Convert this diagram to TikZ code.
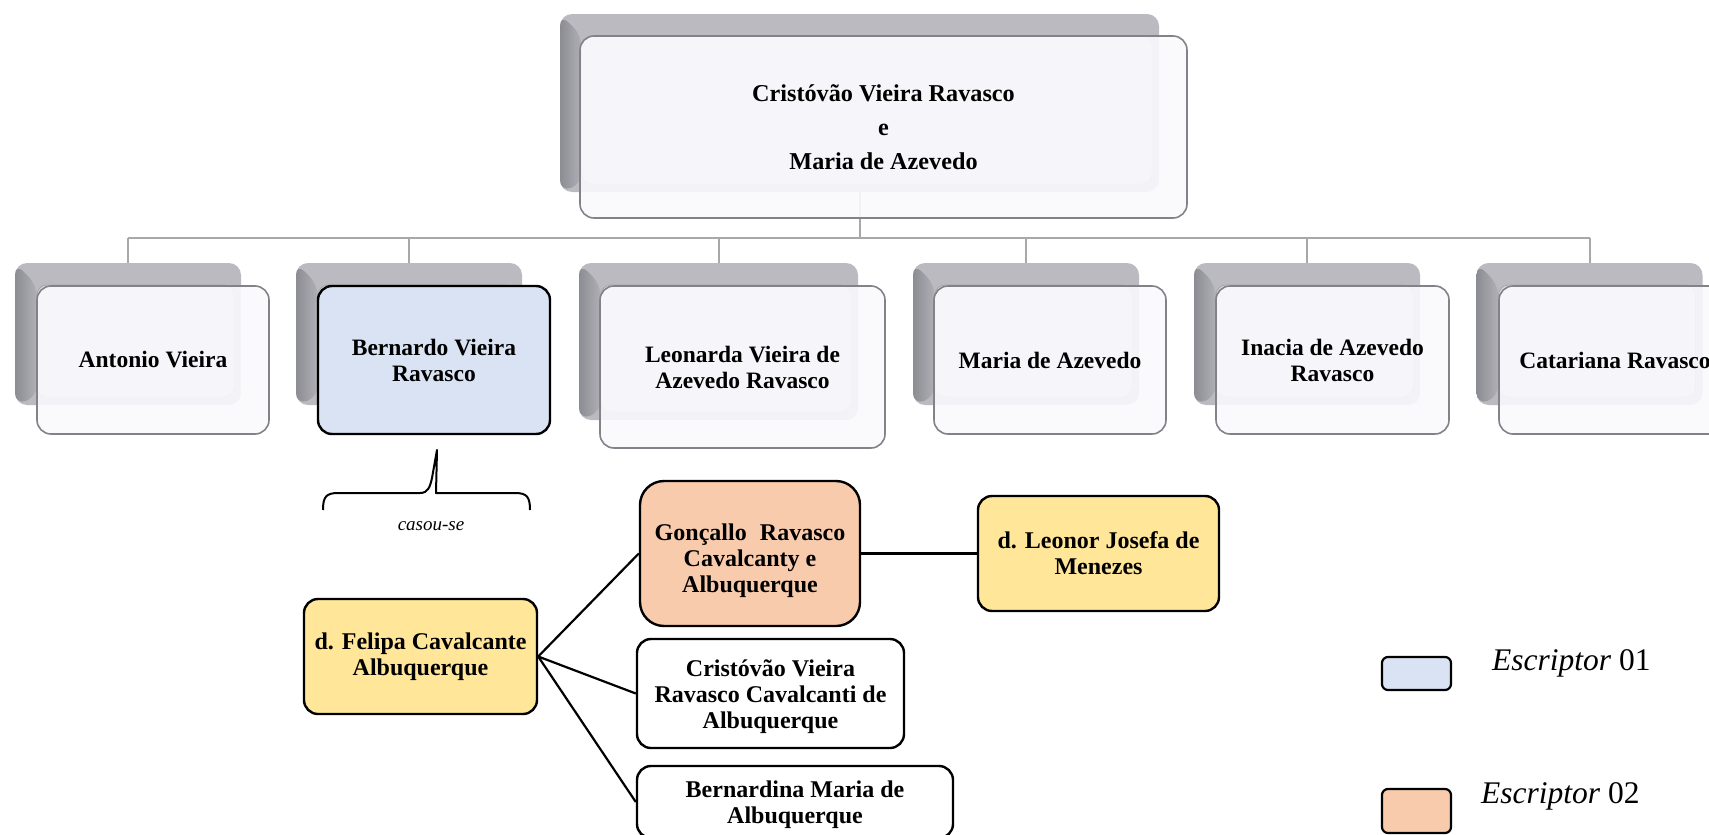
\documentclass[tikz,border=0pt]{standalone}
\usepackage{fontspec}
\setmainfont{Liberation Serif}
\usetikzlibrary{calc}

\definecolor{shadowrim}{RGB}{186,186,192}
\definecolor{shadowdark}{RGB}{140,140,147}
\definecolor{shadowmid}{RGB}{176,176,182}
\definecolor{shadowface}{RGB}{218,218,224}
\definecolor{shadowedge}{RGB}{165,165,171}
\definecolor{frontfill}{RGB}{250,249,252}
\definecolor{frontline}{RGB}{130,130,136}
\definecolor{linkgray}{RGB}{168,168,170}
\definecolor{writerA}{RGB}{218,227,243}
\definecolor{writerB}{RGB}{248,203,173}
\definecolor{spouse}{RGB}{255,230,153}

\tikzset{
  famshadow/.style={fill=shadowrim, rounded corners=12pt, inner sep=0pt,
    path picture={
      \coordinate (pNW) at (path picture bounding box.north west);
      \coordinate (pSW) at (path picture bounding box.south west);
      \coordinate (pSE) at (path picture bounding box.south east);
      % darker bevel on the left side
      \shade[left color=shadowdark, right color=shadowmid]
        (pNW) -- ($(pNW)+(22,22)$) -- ($(pSW)+(22,-8)$) -- (pSW) -- cycle;
      % flat face of the plate
      \filldraw[fill=shadowface, draw=shadowedge, line width=0.8pt, rounded corners=10pt]
        ($(pNW)+(22,22)$) rectangle ($(pSE)+(-7,-8)$);
    }},
  famfront/.style={draw=frontline, line width=1.6pt, fill=frontfill,
    fill opacity=0.9, text opacity=1, rounded corners=14pt, align=center,
    inner sep=0pt, font=\fontsize{23.5}{26}\selectfont\bfseries},
  writerone/.style={famfront, fill=writerA, fill opacity=1, draw=black,
    line width=2.4pt},
  lowbox/.style={draw=black, line width=2.4pt, rounded corners=14pt,
    align=center, inner sep=0pt, fill=white,
    font=\fontsize{24}{26}\selectfont\bfseries},
  lowtext/.style={align=center, inner sep=0pt,
    font=\fontsize{24}{26}\selectfont\bfseries},
  link/.style={draw=linkgray, line width=2pt},
  branch/.style={draw=black, line width=2.2pt},
  keybox/.style={draw=black, line width=2.2pt, rounded corners=6pt, inner sep=0pt},
  keytext/.style={anchor=base west, inner sep=0pt,
    font=\fontsize{31.5}{34}\selectfont},
}

\begin{document}
\begin{tikzpicture}[x=1pt,y=-1pt]
\useasboundingbox (0,0) rectangle (1709,835);
\clip (0,0) rectangle (1709,835);

% shadow plates behind the generation boxes
\node[famshadow, minimum width=599pt, minimum height=178pt] (topS) at (859.5,103) {};
\node[famshadow, minimum width=226pt, minimum height=142pt] (antS) at (128,334) {};
\node[famshadow, minimum width=226pt, minimum height=142pt] (berS) at (409,334) {};
\node[famshadow, minimum width=279pt, minimum height=157pt] (leoS) at (718.5,341.5) {};
\node[famshadow, minimum width=226pt, minimum height=142pt] (marS) at (1026,334) {};
\node[famshadow, minimum width=226pt, minimum height=142pt] (inaS) at (1307,334) {};
\node[famshadow, minimum width=226pt, minimum height=142pt] (catS) at (1589.5,334) {};

% tree connectors
\coordinate (bus) at (0,238);
\draw[link] (topS.south) -- (topS.south |- bus);
\draw[link] (antS.north |- bus) -- (catS.north |- bus);
\foreach \c in {antS,berS,leoS,marS,inaS,catS}
  \draw[link] (\c.north |- bus) -- (\c.north);

% parents
\node[famfront, minimum width=607pt, minimum height=182pt,
      font=\fontsize{24.2}{34}\selectfont\bfseries] (top) at (883.5,127)
  {Cristóvão Vieira Ravasco\\e\\Maria de Azevedo};

% children
\node[famfront, minimum width=232pt, minimum height=148pt] (ant) at (153,360) {Antonio Vieira};
\node[writerone, minimum width=232pt, minimum height=148pt] (ber) at (434,360) {Bernardo Vieira\\Ravasco};
\node[famfront, minimum width=285pt, minimum height=162pt] (leo) at (742.5,367) {Leonarda Vieira de\\Azevedo Ravasco};
\node[famfront, minimum width=232pt, minimum height=148pt] (mar) at (1050,360) {Maria de Azevedo};
\node[famfront, minimum width=233pt, minimum height=148pt] (ina) at (1332.5,360) {Inacia de Azevedo\\Ravasco};
\node[famfront, minimum width=232pt, minimum height=148pt] (cat) at (1615,360) {Catariana Ravasco};

% marriage brace
\draw[black, line width=2pt, line join=round]
  (323,510) .. controls (323,497) and (326,493) .. (338,493)
  -- (420,493) .. controls (428,493) and (430,487) .. (432,478)
  -- (437,450) -- (436,493)
  -- (515,493) .. controls (527,493) and (530,497) .. (530,510);
\node[inner sep=0pt, font=\fontsize{19}{22}\selectfont\itshape] (casou) at (431,526) {casou-se};

% Bernardo's family
\node[lowbox, fill=spouse, minimum width=233pt, minimum height=115pt] (fel) at (420.5,656.5)
  {d. Felipa Cavalcante\\Albuquerque};
\node[lowbox, fill=writerB, rounded corners=24pt, minimum width=220pt, minimum height=145pt] (gon) at (750,553.5) {};
\node[lowtext] (gonT) at ($(gon.center)+(0,7)$)
  {Gonçallo\hspace{0.3em} Ravasco\\Cavalcanty e\\Albuquerque};
\node[lowbox, fill=spouse, minimum width=241pt, minimum height=115pt] (leon) at (1098.5,553.5)
  {d. Leonor Josefa de\\Menezes};
\node[lowbox, minimum width=267pt, minimum height=109pt] (cri) at (770.5,693.5) {};
\node[lowtext] (criT) at ($(cri.center)+(0,3)$)
  {Cristóvão Vieira\\Ravasco Cavalcanti de\\Albuquerque};
\node[lowbox, minimum width=316pt, minimum height=72pt] (bna) at (795,802) {};
\node[lowtext] (bnaT) at ($(bna.center)+(0,3)$)
  {Bernardina Maria de\\Albuquerque};

\draw[branch] (fel.east) -- (gon.west);
\draw[branch] (fel.east) -- (cri.west);
\draw[branch] (fel.east) -- (bna.west);
\draw[branch] (gon.east) -- (leon.west);

% key
\node[keybox, fill=writerA, minimum width=69pt, minimum height=33pt] (keyA) at (1416.5,673.5) {};
\node[keybox, fill=writerB, minimum width=69pt, minimum height=44pt] (keyB) at (1416.5,811) {};
\node[keytext] (keyAt) at (1492,670) {\textit{Escriptor} 01};
\node[keytext] (keyBt) at (1481,803) {\textit{Escriptor} 02};
\end{tikzpicture}
\end{document}
